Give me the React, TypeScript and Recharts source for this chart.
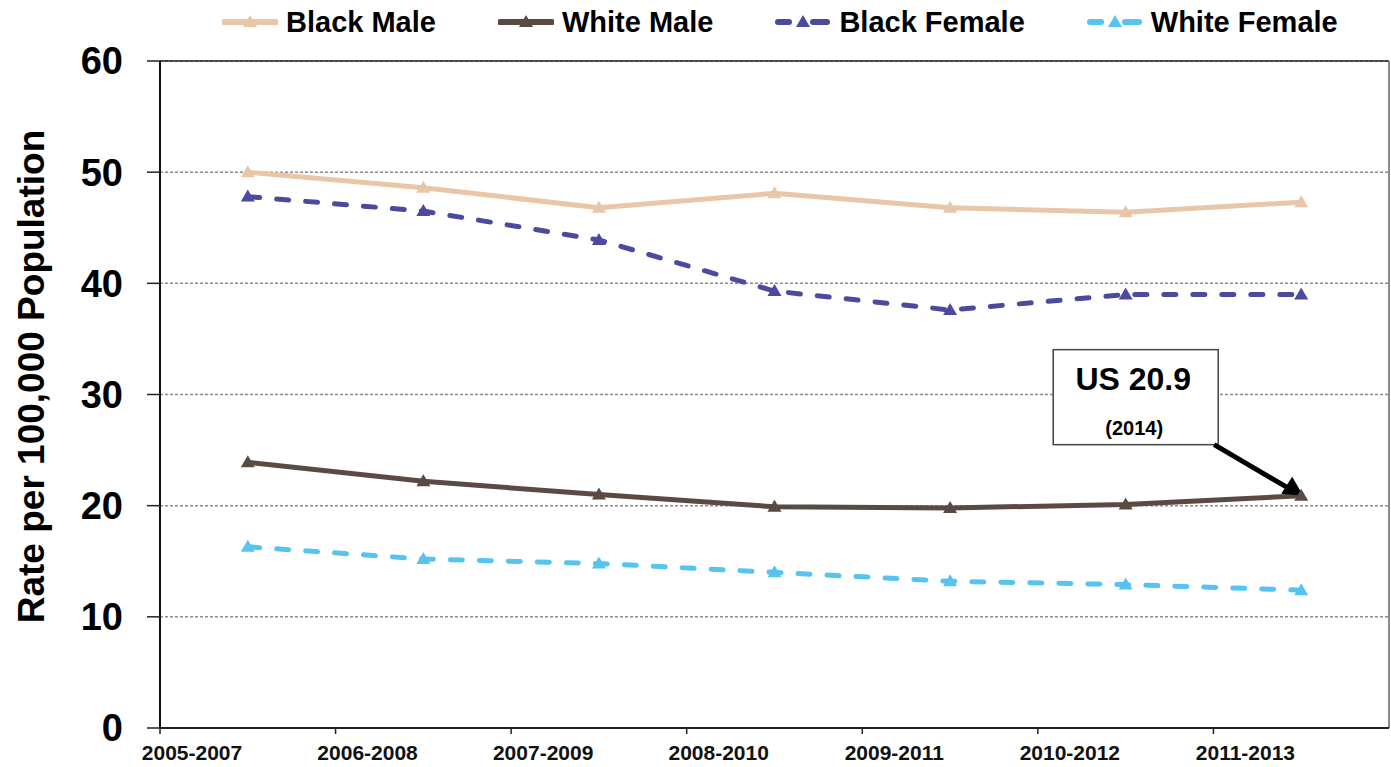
import React from 'react';
import {
  LineChart,
  Line,
  XAxis,
  YAxis,
  CartesianGrid,
  Legend,
  ReferenceLine,
  ReferenceDot,
} from 'recharts';

const periods = ['2005-2007', '2006-2008', '2007-2009', '2008-2010', '2009-2011', '2010-2012', '2011-2013'];
const blackMale = [50.0, 48.6, 46.8, 48.1, 46.8, 46.4, 47.3];
const whiteMale = [23.9, 22.2, 21.0, 19.9, 19.8, 20.1, 20.9];
const blackFemale = [47.8, 46.5, 43.9, 39.3, 37.6, 39.0, 39.0];
const whiteFemale = [16.3, 15.2, 14.8, 14.0, 13.2, 12.9, 12.4];
const yTicks = [0, 10, 20, 30, 40, 50, 60];
const usRate = 20.9;

const FONT = '"Liberation Sans", Arial, Helvetica, sans-serif';

const series = [
  { key: 'bm', name: 'Black Male', color: '#E9C6A8', dashed: false },
  { key: 'wm', name: 'White Male', color: '#5B4A42', dashed: false },
  { key: 'bf', name: 'Black Female', color: '#4A4A9F', dashed: true },
  { key: 'wf', name: 'White Female', color: '#55C4EE', dashed: true },
];

// points sit halfway between the period ticks, like the original
const data = periods.map((p, i) => ({
  x: i + 0.5,
  period: p,
  bm: blackMale[i],
  wm: whiteMale[i],
  bf: blackFemale[i],
  wf: whiteFemale[i],
}));

const Triangle = (color: string) => (props: any) => {
  const { cx, cy, index } = props;
  if (cx == null || cy == null) return null;
  return (
    <polygon
      key={index}
      points={`${cx - 7},${cy + 5} ${cx + 7},${cy + 5} ${cx},${cy - 7}`}
      fill={color}
    />
  );
};

const XTick = (props: any) => {
  const { x, y, payload } = props;
  return (
    <text
      x={x + 32}
      y={y}
      dy="0.71em"
      textAnchor="middle"
      fontFamily={FONT}
      fontWeight="bold"
      fontSize={21}
      fill="#111"
    >
      {periods[payload.value]}
    </text>
  );
};

const LegendContent = () => (
  <div
    style={{
      display: 'flex',
      alignItems: 'center',
      paddingLeft: 222,
      gap: 62,
      height: 44,
      fontFamily: FONT,
      fontWeight: 'bold',
      fontSize: 29,
      color: '#000',
    }}
  >
    {series.map((s) => (
      <div key={s.key} style={{ display: 'flex', alignItems: 'center' }}>
        <svg width={56} height={20} style={{ marginRight: 8 }}>
          {s.dashed ? (
            <>
              <line x1={3} y1={10} x2={14} y2={10} stroke={s.color} strokeWidth={6} strokeLinecap="round" />
              <line x1={38} y1={10} x2={52} y2={10} stroke={s.color} strokeWidth={6} strokeLinecap="round" />
            </>
          ) : (
            <line x1={2} y1={10} x2={54} y2={10} stroke={s.color} strokeWidth={6} strokeLinecap="round" />
          )}
          <polygon points="21,15 35,15 28,3" fill={s.color} />
        </svg>
        <span>{s.name}</span>
      </div>
    ))}
  </div>
);

const Callout = (props: any) => {
  const { cx, cy } = props;
  if (cx == null || cy == null) return null;
  const bx = cx - 248;
  const by = cy - 146;
  return (
    <g>
      <rect x={bx} y={by} width={165} height={95} fill="#fff" stroke="#444" strokeWidth={1.5} />
      <text x={bx + 80} y={by + 40} textAnchor="middle" fontFamily={FONT} fontWeight="bold" fontSize={32} fill="#000">
        US {usRate}
      </text>
      <text x={bx + 81} y={by + 85} textAnchor="middle" fontFamily={FONT} fontWeight="bold" fontSize={20} fill="#000">
        (2014)
      </text>
      <line x1={cx - 87} y1={cy - 51} x2={cx - 12} y2={cy - 7} stroke="#000" strokeWidth={5} />
      <polygon points={`${cx + 2},${cy} ${cx - 20},${cy - 2} ${cx - 9},${cy - 19}`} fill="#000" />
    </g>
  );
};

export default function App() {
  return (
    <div style={{ position: 'absolute', left: 0, top: 0, background: '#fff' }}>
      <LineChart width={1391} height={767} data={data} margin={{ top: 0, right: 2, bottom: 0, left: 0 }}>
        <Legend verticalAlign="top" align="left" height={61} content={<LegendContent />} />
        <CartesianGrid vertical={false} stroke="#8c8c8c" strokeDasharray="3 2" strokeWidth={1.5} />
        <XAxis
          type="number"
          dataKey="x"
          domain={[0, 7]}
          ticks={[0, 1, 2, 3, 4, 5, 6]}
          height={39}
          tick={<XTick />}
          tickSize={6}
          tickMargin={11}
          axisLine={{ stroke: '#222', strokeWidth: 2 }}
          tickLine={{ stroke: '#222', strokeWidth: 1.5 }}
        />
        <YAxis
          domain={[0, 60]}
          ticks={yTicks}
          width={160}
          tickSize={13}
          tickMargin={24}
          axisLine={{ stroke: '#111', strokeWidth: 2 }}
          tickLine={{ stroke: '#222', strokeWidth: 1.5 }}
          tick={{ fontFamily: FONT, fontWeight: 'bold', fontSize: 38, fill: '#000' }}
          label={(p: any) => {
            const vb = p.viewBox;
            const y = vb.y + vb.height / 2 - 18;
            return (
              <text
                x={31}
                y={y}
                transform={`rotate(-90, 31, ${y})`}
                textAnchor="middle"
                dominantBaseline="central"
                fontFamily={FONT}
                fontWeight="bold"
                fontSize={37}
                fill="#000"
              >
                Rate per 100,000 Population
              </text>
            );
          }}
        />
        <ReferenceLine y={60} stroke="#222" strokeWidth={1.5} />
        <ReferenceLine x={7} stroke="#666" strokeWidth={1.5} />
        {series.map((s) => (
          <Line
            key={s.key}
            type="linear"
            dataKey={s.key}
            name={s.name}
            stroke={s.color}
            strokeWidth={5}
            strokeDasharray={s.dashed ? '12 17' : undefined}
            strokeLinecap="round"
            dot={Triangle(s.color)}
            activeDot={false}
            isAnimationActive={false}
          />
        ))}
        <ReferenceDot x={6.5} y={usRate} r={0} shape={<Callout />} />
      </LineChart>
    </div>
  );
}
